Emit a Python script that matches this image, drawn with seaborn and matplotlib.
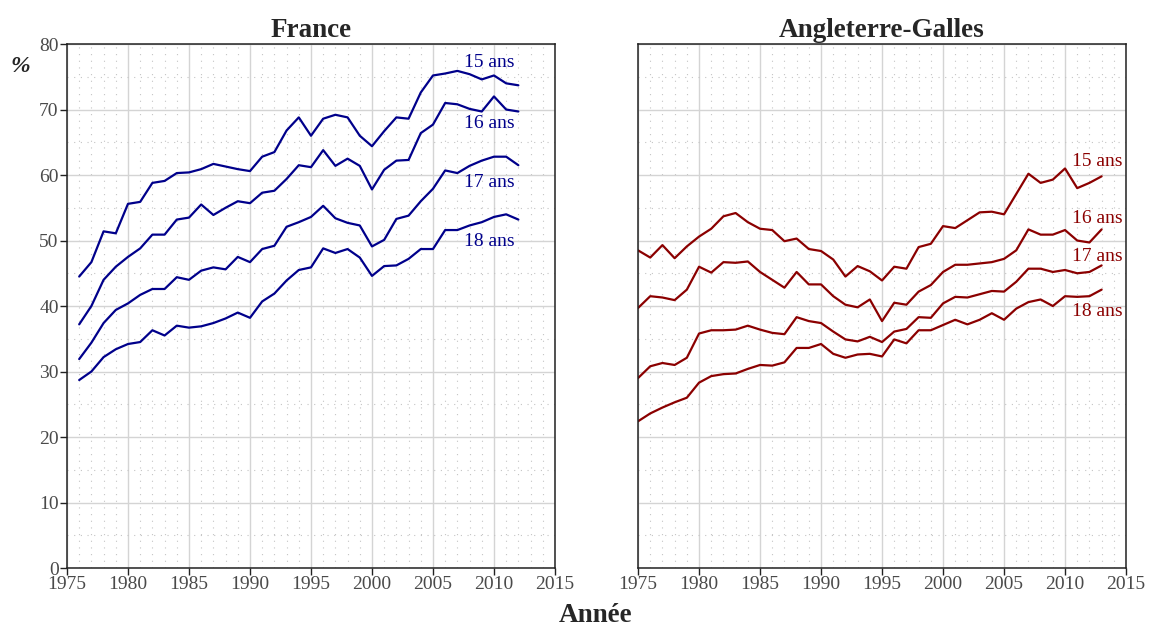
import numpy as np
import pandas as pd
import matplotlib.pyplot as plt
import seaborn as sns
from matplotlib.ticker import MultipleLocator

plt.switch_backend("Agg")

# France, 1976-2012
fr_years = list(range(1976, 2013))
fr_15 = [44.5, 46.7, 51.4, 51.1, 55.6, 55.9, 58.8, 59.1, 60.3, 60.4,
         60.9, 61.7, 61.3, 60.9, 60.6, 62.8, 63.5, 66.8, 68.8, 66.0,
         68.6, 69.2, 68.8, 66.0, 64.4, 66.7, 68.8, 68.6, 72.6, 75.2,
         75.5, 75.9, 75.4, 74.6, 75.2, 74.0, 73.7]
fr_16 = [37.2, 40.0, 44.0, 46.0, 47.5, 48.8, 50.9, 50.9, 53.2, 53.5,
         55.5, 53.9, 55.0, 56.0, 55.7, 57.3, 57.6, 59.4, 61.5, 61.2,
         63.8, 61.4, 62.5, 61.4, 57.8, 60.8, 62.2, 62.3, 66.4, 67.7,
         71.0, 70.8, 70.1, 69.7, 72.0, 70.0, 69.7]
fr_17 = [31.9, 34.4, 37.4, 39.4, 40.4, 41.7, 42.6, 42.6, 44.4, 44.0,
         45.4, 45.9, 45.6, 47.5, 46.7, 48.7, 49.2, 52.1, 52.8, 53.6,
         55.3, 53.4, 52.7, 52.3, 49.1, 50.1, 53.3, 53.8, 56.0, 57.9,
         60.7, 60.3, 61.4, 62.2, 62.8, 62.8, 61.5]
fr_18 = [28.7, 30.0, 32.2, 33.4, 34.2, 34.5, 36.3, 35.5, 37.0, 36.7,
         36.9, 37.4, 38.1, 39.0, 38.2, 40.7, 41.9, 43.9, 45.5, 45.9,
         48.8, 48.1, 48.7, 47.4, 44.6, 46.1, 46.2, 47.2, 48.7, 48.7,
         51.6, 51.6, 52.3, 52.8, 53.6, 54.0, 53.2]

# Angleterre-Galles, 1975-2013
eng_years = list(range(1975, 2014))
eng_15 = [48.5, 47.4, 49.3, 47.3, 49.1, 50.6, 51.8, 53.7, 54.2, 52.8,
          51.8, 51.6, 49.9, 50.3, 48.7, 48.4, 47.1, 44.5, 46.1, 45.3,
          43.9, 46.0, 45.7, 49.0, 49.5, 52.2, 51.9, 53.1, 54.3, 54.4,
          54.0, 57.1, 60.2, 58.8, 59.3, 61.0, 58.0, 58.8, 59.8]
eng_16 = [39.7, 41.5, 41.3, 40.9, 42.5, 46.0, 45.1, 46.7, 46.6, 46.8,
          45.2, 44.0, 42.8, 45.2, 43.3, 43.3, 41.5, 40.2, 39.8, 41.0,
          37.7, 40.5, 40.2, 42.2, 43.2, 45.2, 46.3, 46.3, 46.5, 46.7,
          47.2, 48.5, 51.7, 50.9, 50.9, 51.6, 50.0, 49.7, 51.7]
eng_17 = [29.0, 30.8, 31.3, 31.0, 32.1, 35.8, 36.3, 36.3, 36.4, 37.0,
          36.4, 35.9, 35.7, 38.3, 37.7, 37.4, 36.1, 34.9, 34.6, 35.3,
          34.5, 36.1, 36.5, 38.3, 38.2, 40.4, 41.4, 41.3, 41.8, 42.3,
          42.2, 43.7, 45.7, 45.7, 45.2, 45.5, 45.0, 45.2, 46.2]
eng_18 = [22.4, 23.6, 24.5, 25.3, 26.0, 28.3, 29.3, 29.6, 29.7, 30.4,
          31.0, 30.9, 31.4, 33.6, 33.6, 34.2, 32.7, 32.1, 32.6, 32.7,
          32.3, 34.9, 34.3, 36.3, 36.3, 37.1, 37.9, 37.2, 37.9, 38.9,
          37.9, 39.6, 40.6, 41.0, 40.0, 41.5, 41.4, 41.5, 42.5]

ages = ["15 ans", "16 ans", "17 ans", "18 ans"]
fr_label_y = [77.2, 67.9, 58.9, 49.9]
eng_label_y = [62.0, 53.4, 47.5, 39.2]


def to_long(years, series):
    frames = [pd.DataFrame({"annee": years, "pct": vals, "age": age})
              for age, vals in zip(ages, series)]
    return pd.concat(frames, ignore_index=True)


fr_df = to_long(fr_years, [fr_15, fr_16, fr_17, fr_18])
eng_df = to_long(eng_years, [eng_15, eng_16, eng_17, eng_18])

sns.set_style("ticks")
plt.rcParams["font.family"] = ["Liberation Serif", "DejaVu Serif"]

fig = plt.figure(figsize=(11.49, 6.30), dpi=100)
ax_fr = fig.add_axes([0.0583, 0.0984, 0.4247, 0.8317])
ax_en = fig.add_axes([0.5553, 0.0984, 0.4247, 0.8317])

panels = [
    (ax_fr, fr_df, "#00008b", "France", fr_label_y, 2011.7),
    (ax_en, eng_df, "#8b0000", "Angleterre-Galles", eng_label_y, 2014.7),
]

for ax, df, color, title, label_y, label_x in panels:
    sns.lineplot(data=df, x="annee", y="pct", hue="age", units="age",
                 estimator=None, palette=[color] * 4, legend=False,
                 linewidth=1.6, ax=ax)
    ax.set_xlim(1975, 2015)
    ax.set_ylim(0, 80)
    ax.xaxis.set_major_locator(MultipleLocator(5))
    ax.xaxis.set_minor_locator(MultipleLocator(1))
    ax.yaxis.set_major_locator(MultipleLocator(10))
    ax.yaxis.set_minor_locator(MultipleLocator(5))
    ax.grid(which="major", color="#d4d4d4", linewidth=1.0)
    ax.grid(which="minor", color="#c4c4c4", linestyle=(0, (1, 5)), linewidth=0.8)
    ax.set_axisbelow(True)
    ax.tick_params(which="minor", length=0)
    ax.tick_params(which="major", length=5, width=1, colors="#222222",
                   labelcolor="#4a4a4a", labelsize=14, pad=1)
    for sp in ax.spines.values():
        sp.set_visible(True)
        sp.set_color("#222222")
        sp.set_linewidth(1.1)
    ax.set_xlabel("")
    ax.set_ylabel("")
    ax.set_title(title, fontsize=19.5, fontweight="bold", pad=5)
    for age, y in zip(ages, label_y):
        ax.text(label_x, y, age, color=color, fontsize=14,
                ha="right", va="center")

ax_en.tick_params(axis="y", which="both", left=False, labelleft=False)

fig.text(0.009, 0.885, "%", fontsize=17, fontweight="bold", fontstyle="italic")
fig.text(0.518, 0.012, "Année", fontsize=19.5, fontweight="bold", ha="center")

fig.savefig("out.png", dpi=100)
